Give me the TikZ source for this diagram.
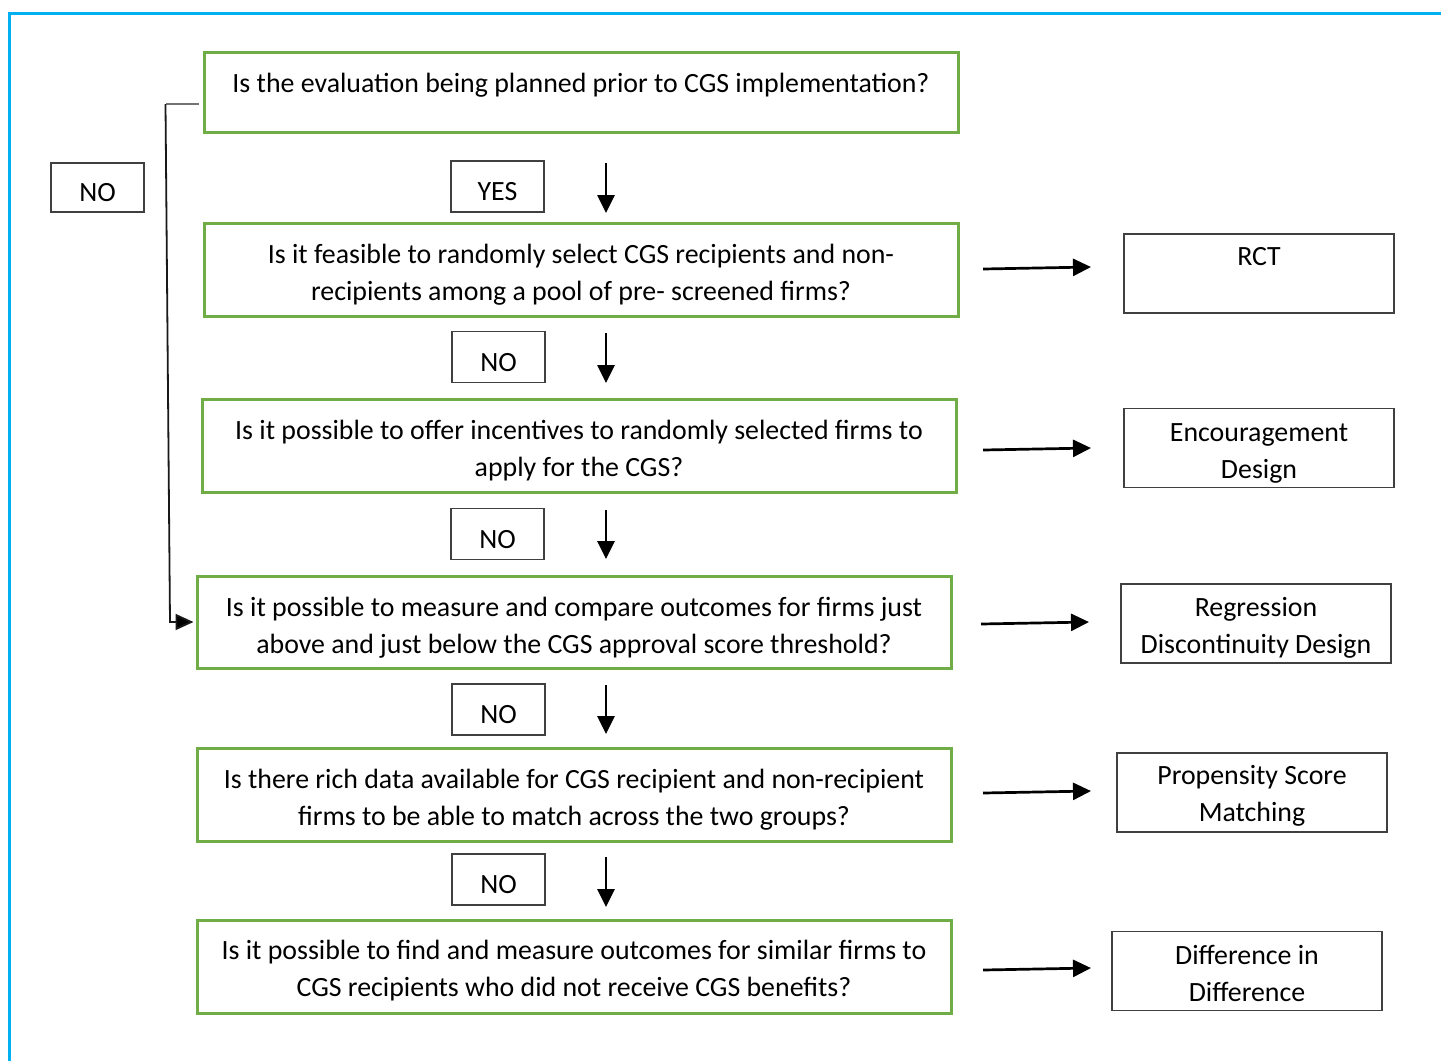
\documentclass[tikz,border=0pt]{standalone}
\usepackage{fontspec}
\setmainfont{Carlito}
\usetikzlibrary{arrows.meta}
\definecolor{qgreen}{HTML}{70AD47}
\definecolor{fblue}{HTML}{00B0F0}
\definecolor{edgegray}{HTML}{404040}
\begin{document}
\begin{tikzpicture}[x=0.75pt,y=-0.75pt,
  every node/.style={font=\fontsize{20.9}{27.75}\selectfont, text=black},
  qbox/.style={draw=qgreen, line width=3*0.75pt, minimum width=754*0.75pt, minimum height=93*0.75pt, inner sep=0pt},
  lbox/.style={draw=edgegray, line width=1.6*0.75pt, minimum width=93*0.75pt, minimum height=51*0.75pt, inner sep=0pt},
  rbox/.style={draw=edgegray, line width=1.6*0.75pt, minimum width=270*0.75pt, minimum height=79*0.75pt, inner sep=0pt},
  txt/.style={inner sep=0pt, align=center},
  arr/.style={line width=2.7*0.75pt, -{Triangle[length=18*0.75pt, width=17*0.75pt]}}
]
\useasboundingbox (0,0) rectangle (1441,1061);
% frame
\draw[fblue, line width=3.5*0.75pt] (9.5,1061) -- (9.5,13.5) -- (1441,13.5);

% question boxes
\node[qbox, minimum height=80*0.75pt] (q1) at (581,92) {};
\node[qbox] (q2) at (581,269.5) {};
\node[qbox] (q3) at (579,445.5) {};
\node[qbox, minimum height=92*0.75pt] (q4) at (574,622) {};
\node[qbox] (q5) at (574,794.5) {};
\node[qbox] (q6) at (574,966.5) {};
% question texts
\node[txt] (t1) at ([yshift=6.5*0.75pt]q1.center) {Is the evaluation being planned prior to CGS implementation?};
\node[txt] (t2) at ([yshift=-5*0.75pt]q2.center) {Is it feasible to randomly select CGS recipients and non-\\recipients among a pool of pre- screened firms?};
\node[txt] (t3) at ([yshift=-5*0.75pt]q3.center) {Is it possible to offer incentives to randomly selected firms to\\apply for the CGS?};
\node[txt] (t4) at ([yshift=-5.5*0.75pt]q4.center) {Is it possible to measure and compare outcomes for firms just\\above and just below the CGS approval score threshold?};
\node[txt] (t5) at ([yshift=-5*0.75pt]q5.center) {Is there rich data available for CGS recipient and non-recipient\\firms to be able to match across the two groups?};
\node[txt] (t6) at ([yshift=-4.5*0.75pt]q6.center) {Is it possible to find and measure outcomes for similar firms to\\CGS recipients who did not receive CGS benefits?};

% label boxes
\node[lbox, minimum height=49*0.75pt] (n0) at (97.5,187.5) {};
\node[lbox] (y1) at (497.5,186.5) {};
\node[lbox] (n1) at (498.5,357) {};
\node[lbox] (n2) at (497.5,534) {};
\node[lbox] (n3) at (498.5,709.5) {};
\node[lbox] (n4) at (498.5,879.5) {};
\foreach \b/\w in {n0/NO, y1/YES, n1/NO, n2/NO, n3/NO, n4/NO}
  {\node[txt] (\b t) at ([yshift=-5.5*0.75pt]\b.center) {\w};}

% result boxes
\node[rbox] (r1) at (1259,273.5) {};
\node[rbox] (r2) at (1259,448) {};
\node[rbox] (r3) at (1256,623.5) {};
\node[rbox] (r4) at (1252,792.5) {};
\node[rbox] (r5) at (1247,971) {};
\node[txt] (rt1) at ([yshift=16.5*0.75pt]r1.center) {RCT};
\node[txt] (rt2) at ([yshift=-5*0.75pt]r2.center) {Encouragement\\Design};
\node[txt] (rt3) at ([yshift=-4*0.75pt]r3.center) {Regression\\Discontinuity Design};
\node[txt] (rt4) at ([yshift=-3.5*0.75pt]r4.center) {Propensity Score\\Matching};
\node[txt] (rt5) at ([yshift=-2.5*0.75pt]r5.center) {Difference in\\Difference};

% down arrows
\coordinate (d1s) at (606,163); \coordinate (d1e) at (606,213);
\coordinate (d2s) at (606,333); \coordinate (d2e) at (606,383);
\coordinate (d3s) at (606,510); \coordinate (d3e) at (606,559);
\coordinate (d4s) at (606,685); \coordinate (d4e) at (606,734);
\coordinate (d5s) at (606,857); \coordinate (d5e) at (606,907);
\foreach \i in {1,...,5} {\draw[arr] (d\i s) -- (d\i e);}

% right arrows
\coordinate (h1s) at (983,269); \coordinate (h1e) at (1091,267);
\coordinate (h2s) at (983,450); \coordinate (h2e) at (1091,448);
\coordinate (h3s) at (981,624); \coordinate (h3e) at (1089,622);
\coordinate (h4s) at (983,793); \coordinate (h4e) at (1091,791);
\coordinate (h5s) at (983,970); \coordinate (h5e) at (1091,968);
\foreach \i in {1,...,5} {\draw[arr] (h\i s) -- (h\i e);}

% left NO connector
\coordinate (c1) at (199,104);
\coordinate (c2) at (165.5,104);
\coordinate (c3) at (170,622);
\draw[black!55, line width=1.8*0.75pt] (c1) -- (c2);
\draw[black!90, line width=1.8*0.75pt, -{Triangle[length=18*0.75pt, width=16*0.75pt, fill=black]}, shorten >=1.5pt] (c2) -- (c3) -- (q4.west);
\end{tikzpicture}
\end{document}
